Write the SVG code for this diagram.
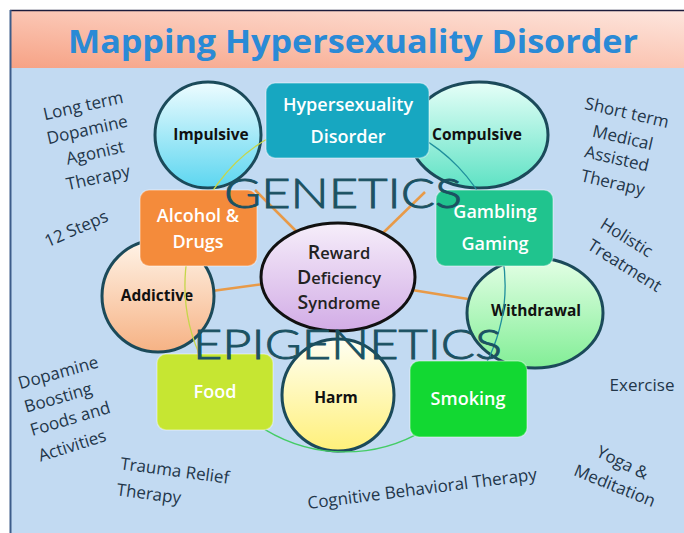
<svg xmlns="http://www.w3.org/2000/svg" width="684" height="533" viewBox="0 0 684 533">
  <defs>
    <linearGradient id="gTitle" x1="0" y1="1" x2="1" y2="0">
      <stop offset="0" stop-color="#f6a285"/>
      <stop offset="0.5" stop-color="#fbc6b4"/>
      <stop offset="1" stop-color="#fde6de"/>
    </linearGradient>
    <linearGradient id="gImp" x1="0" y1="0" x2="0" y2="1">
      <stop offset="0" stop-color="#eefcff"/>
      <stop offset="1" stop-color="#5cd6f0"/>
    </linearGradient>
    <linearGradient id="gComp" x1="0" y1="0" x2="0" y2="1">
      <stop offset="0" stop-color="#e6fff8"/>
      <stop offset="1" stop-color="#5ee2c4"/>
    </linearGradient>
    <linearGradient id="gAdd" x1="0" y1="0" x2="0" y2="1">
      <stop offset="0" stop-color="#fff4e8"/>
      <stop offset="1" stop-color="#f6b284"/>
    </linearGradient>
    <linearGradient id="gWith" x1="0" y1="0" x2="0" y2="1">
      <stop offset="0" stop-color="#e4ffe6"/>
      <stop offset="1" stop-color="#82ee96"/>
    </linearGradient>
    <linearGradient id="gHarm" x1="0" y1="0" x2="0" y2="1">
      <stop offset="0" stop-color="#fffff2"/>
      <stop offset="1" stop-color="#fff07a"/>
    </linearGradient>
    <linearGradient id="gRds" x1="0" y1="0" x2="0" y2="1">
      <stop offset="0" stop-color="#f6eefa"/>
      <stop offset="1" stop-color="#d2ace6"/>
    </linearGradient>
    <style>
      .title { font-family: "Open Sans", "Liberation Sans", sans-serif; font-weight: 700; font-size: 33px; fill: #2a8ad6; }
      .circ { stroke: #1b4a5a; stroke-width: 3; }
      .box { stroke: #ffffff; stroke-opacity: 0.35; stroke-width: 1.5; }
      .clab { font-family: "Open Sans", "Liberation Sans", sans-serif; font-weight: 700; font-size: 15.5px; fill: #111; text-anchor: middle; }
      .blab { font-family: "Open Sans", "Liberation Sans", sans-serif; font-weight: 600; font-size: 18px; fill: #ffffff; text-anchor: middle; }
      .rds { font-family: "Open Sans", "Liberation Sans", sans-serif; font-weight: 600; font-size: 16.5px; fill: #222; text-anchor: middle; }
      .big { font-size: 19.5px; }
      .side { font-family: "Open Sans", "Liberation Sans", sans-serif; font-size: 17px; fill: #22364a; text-anchor: middle; dominant-baseline: central; }
      .gen { font-family: "Lato", "Open Sans", sans-serif; font-weight: 300; font-size: 41px; fill: #1b5262; stroke: #1b5262; stroke-width: 0.9; }
      .conn { stroke: #e89a48; stroke-width: 2.5; fill: none; }
      .arc { fill: none; stroke-width: 1.3; }
    </style>
  </defs>

  <!-- background / frame -->
  <rect x="0" y="0" width="684" height="533" fill="#ffffff"/>
  <rect x="10" y="68" width="674" height="465" fill="#c2daf2"/>
  <rect x="10" y="10" width="674" height="58" fill="url(#gTitle)"/>
  <line x1="10" y1="10.5" x2="684" y2="10.5" stroke="#1c1c3c" stroke-width="1.5"/>
  <line x1="10.5" y1="10" x2="10.5" y2="533" stroke="#3c5c8a" stroke-width="2"/>
  <text class="title" x="68" y="53" textLength="570" lengthAdjust="spacingAndGlyphs">Mapping Hypersexuality Disorder</text>

  <!-- connectors -->
  <g id="connectors">
    <line class="conn" x1="300" y1="235" x2="255" y2="190"/>
    <line class="conn" x1="383" y1="233" x2="425" y2="192"/>
    <line class="conn" x1="264" y1="284" x2="212" y2="291"/>
    <line class="conn" x1="412" y1="290" x2="468" y2="299"/>
    <line class="conn" x1="338" y1="330" x2="338" y2="342"/>
  </g>

  <!-- circle nodes -->
  <g id="node-impulsive">
    <circle class="circ" cx="208" cy="135" r="53" fill="url(#gImp)"/>
    <text class="clab" x="211" y="140">Impulsive</text>
  </g>
  <g id="node-compulsive">
    <ellipse class="circ" cx="479" cy="135" rx="69" ry="53" fill="url(#gComp)"/>
    <text class="clab" x="477" y="140">Compulsive</text>
  </g>
  <g id="node-addictive">
    <circle class="circ" cx="158" cy="296" r="56" fill="url(#gAdd)"/>
    <text class="clab" x="157" y="301">Addictive</text>
  </g>
  <g id="node-withdrawal">
    <ellipse class="circ" cx="535" cy="313" rx="68" ry="55" fill="url(#gWith)"/>
    <text class="clab" x="536" y="316">Withdrawal</text>
  </g>
  <g id="node-harm">
    <circle class="circ" cx="338" cy="395" r="56" fill="url(#gHarm)"/>
    <text class="clab" x="336" y="403">Harm</text>
  </g>

  <!-- cycle arc -->
  <g id="cycle-arc">
    <path class="arc" stroke="#c6d64a" d="M 290.3 128 A 160 167 0 0 0 265 429.6"/>
    <path class="arc" stroke="#44cc66" d="M 265 429.6 A 160 167 0 0 0 425 429.6"/>
    <path class="arc" stroke="#1f8f9c" d="M 425 429.6 A 160 167 0 0 0 372.8 120.5"/>
  </g>

  <!-- box nodes -->
  <g id="node-hypersexuality">
    <rect class="box" x="266" y="83" width="163" height="75" rx="9" fill="#17a7c1"/>
    <text class="blab" x="348" y="111">Hypersexuality</text>
    <text class="blab" x="348" y="143">Disorder</text>
  </g>
  <g id="node-alcohol">
    <rect class="box" x="140" y="190" width="117" height="76" rx="9" fill="#f48b3b"/>
    <text class="blab" x="198" y="222">Alcohol &amp;</text>
    <text class="blab" x="198" y="248">Drugs</text>
  </g>
  <g id="node-gambling">
    <rect class="box" x="436" y="190" width="117" height="76" rx="9" fill="#20c48e"/>
    <text class="blab" x="495" y="218">Gambling</text>
    <text class="blab" x="495" y="250">Gaming</text>
  </g>
  <g id="node-food">
    <rect class="box" x="157" y="354" width="116" height="76" rx="9" fill="#c6e632"/>
    <text class="blab" x="215" y="398">Food</text>
  </g>
  <g id="node-smoking">
    <rect class="box" x="410" y="361" width="117" height="76" rx="9" fill="#12d832"/>
    <text class="blab" x="468" y="405">Smoking</text>
  </g>

  <!-- center node -->
  <g id="node-rds">
    <ellipse cx="338" cy="277" rx="77" ry="54" fill="url(#gRds)" stroke="#111" stroke-width="3"/>
    <text class="rds" x="339" y="259"><tspan class="big">R</tspan>eward</text>
    <text class="rds" x="339" y="284"><tspan class="big">D</tspan>eficiency</text>
    <text class="rds" x="339" y="309"><tspan class="big">S</tspan>yndrome</text>
  </g>

  <!-- overlays -->
  <text class="gen" x="224" y="208" textLength="238" lengthAdjust="spacingAndGlyphs">GENETICS</text>
  <text class="gen" x="193" y="359" textLength="309" lengthAdjust="spacingAndGlyphs">EPIGENETICS</text>

  <!-- side treatment labels -->
  <g id="treatments">
    <text class="side" transform="translate(83,105) rotate(-12.5)">Long term</text>
    <text class="side" transform="translate(87,129) rotate(-12.5)">Dopamine</text>
    <text class="side" transform="translate(95,152) rotate(-12.5)">Agonist</text>
    <text class="side" transform="translate(98,177) rotate(-12.5)">Therapy</text>
    <text class="side" transform="translate(76,228) rotate(-23.5)">12 Steps</text>

    <text class="side" transform="translate(627,112) rotate(13)">Short term</text>
    <text class="side" transform="translate(623,137) rotate(13)">Medical</text>
    <text class="side" transform="translate(617,158) rotate(13)">Assisted</text>
    <text class="side" transform="translate(613,182) rotate(13)">Therapy</text>
    <text class="side" transform="translate(627,237) rotate(32)">Holistic</text>
    <text class="side" transform="translate(625,265) rotate(32)">Treatment</text>

    <text class="side" x="642" y="384">Exercise</text>
    <text class="side" transform="translate(623,462) rotate(26)">Yoga &amp;</text>
    <text class="side" transform="translate(615,485) rotate(22)">Meditation</text>

    <text class="side" transform="translate(422,488) rotate(-7.2)">Cognitive Behavioral Therapy</text>

    <text class="side" transform="translate(58,372) rotate(-15.5)">Dopamine</text>
    <text class="side" transform="translate(58,397) rotate(-16)">Boosting</text>
    <text class="side" transform="translate(70,418) rotate(-16.5)">Foods and</text>
    <text class="side" transform="translate(72,445) rotate(-17.5)">Activities</text>

    <text class="side" transform="translate(175,470) rotate(7.6)">Trauma Relief</text>
    <text class="side" transform="translate(149,493) rotate(7.6)">Therapy</text>
  </g>
</svg>
